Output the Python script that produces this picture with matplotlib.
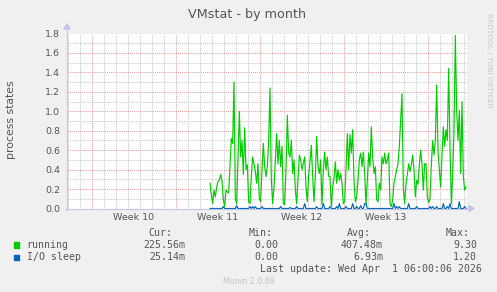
import numpy as np
import matplotlib
matplotlib.use("Agg")
import matplotlib.pyplot as plt
import matplotlib.transforms as mtransforms
from matplotlib.patches import Rectangle, Polygon
from matplotlib.lines import Line2D

# --- data ---
# x axis in days since Sun 1 Mar 2026 00:00, one sample every 1/9 day
t_start = 9.858
t_step = 1 / 9

running = [
    0.26, 0.14, 0.05, 0.19, 0.12, 0.22, 0.28, 0.29, 0.35, 0.29,
    0.09, 0.02, 0.19, 0.17, 0.16, 0.45, 0.72, 0.67, 1.30, 0.10,
    0.05, 0.50, 1.00, 0.53, 0.70, 0.35, 0.83, 0.40, 0.45, 0.07,
    0.05, 0.33, 0.53, 0.46, 0.38, 0.26, 0.46, 0.10, 0.07, 0.40,
    0.67, 0.43, 0.33, 0.43, 0.70, 1.24, 0.29, 0.05, 0.22, 0.50,
    0.77, 0.46, 0.70, 0.43, 0.64, 0.05, 0.04, 0.40, 0.96, 0.57,
    0.53, 0.70, 0.36, 0.50, 0.19, 0.05, 0.29, 0.55, 0.50, 0.40,
    0.46, 0.53, 0.22, 0.07, 0.34, 0.48, 0.65, 0.33, 0.07, 0.33,
    0.74, 0.43, 0.36, 0.50, 0.04, 0.40, 0.58, 0.40, 0.53, 0.33,
    0.33, 0.02, 0.22, 0.31, 0.48, 0.26, 0.40, 0.29, 0.36, 0.26,
    0.05, 0.07, 0.40, 0.77, 0.40, 0.76, 0.57, 0.81, 0.29, 0.07,
    0.12, 0.29, 0.50, 0.57, 0.43, 0.58, 0.36, 0.04, 0.29, 0.57,
    0.43, 0.84, 0.53, 0.36, 0.43, 0.09, 0.07, 0.26, 0.19, 0.53,
    0.46, 0.57, 0.46, 0.50, 0.57, 0.05, 0.02, 0.09, 0.26, 0.33,
    0.40, 0.46, 0.64, 0.91, 1.18, 0.20, 0.05, 0.25, 0.35, 0.46,
    0.38, 0.45, 0.55, 0.40, 0.12, 0.29, 0.25, 0.45, 0.60, 0.45,
    0.19, 0.46, 0.46, 0.12, 0.06, 0.10, 0.45, 0.70, 0.55, 0.70,
    1.27, 0.60, 0.40, 0.22, 0.55, 0.84, 0.64, 0.81, 0.70, 1.44,
    0.64, 0.05, 0.35, 0.80, 1.78, 1.01, 0.70, 1.01, 0.36, 1.10,
    0.33, 0.19, 0.22,
]

io_sleep = [
    0, 0, 0, 0, 0, 0, 0, 0, 0, 0,
    0.02, 0, 0, 0, 0, 0, 0, 0, 0, 0,
    0.03, 0, 0, 0, 0, 0, 0, 0, 0, 0,
    0.02, 0, 0.02, 0, 0.02, 0, 0, 0, 0, 0.02,
    0, 0, 0, 0, 0, 0, 0, 0, 0, 0,
    0, 0, 0, 0.02, 0, 0, 0, 0, 0, 0,
    0.01, 0, 0, 0, 0, 0.02, 0, 0, 0, 0,
    0, 0.05, 0, 0, 0, 0, 0, 0, 0, 0,
    0.02, 0, 0, 0, 0, 0.05, 0, 0, 0, 0,
    0.02, 0, 0, 0, 0, 0.02, 0, 0.05, 0, 0,
    0, 0, 0.02, 0, 0, 0, 0, 0.05, 0, 0,
    0.02, 0, 0, 0.03, 0, 0, 0.05, 0.05, 0, 0,
    0, 0, 0, 0, 0, 0, 0, 0, 0, 0,
    0, 0, 0, 0, 0, 0, 0, 0, 0.05, 0,
    0.02, 0, 0.02, 0, 0, 0, 0, 0, 0, 0.05,
    0, 0, 0, 0, 0, 0.02, 0, 0, 0, 0,
    0, 0, 0, 0, 0, 0.02, 0, 0.02, 0, 0,
    0.02, 0, 0, 0, 0, 0.05, 0, 0, 0.02, 0,
    0.05, 0, 0, 0, 0, 0, 0, 0.07, 0, 0,
    0, 0.02, 0,
]

week_labels = ["Week 10", "Week 11", "Week 12", "Week 13"]
week_starts = [0, 7, 14, 21, 28]

series_names = ["running", "I/O sleep"]
series_colors = ["#00CC00", "#0066B3"]
cur_vals = ["225.56m", "25.14m"]
min_vals = ["0.00", "0.00"]
avg_vals = ["407.48m", "6.93m"]
max_vals = ["9.30", "1.20"]

# --- layout in pixels ---
W, H = 497, 292
px_l, px_r, px_t, px_b = 67, 467, 33.5, 208.5
txt = "#555555"
axis_col = "#C4C4EC"


def fx(x):
    return x / W


def fy(y):
    return 1 - y / H


fig = plt.figure(figsize=(W / 100, H / 100), dpi=100, facecolor="#F0F0F0")
ax = fig.add_axes([fx(px_l), fy(px_b), (px_r - px_l) / W, (px_b - px_t) / H])
ax.set_facecolor("white")

t = t_start + t_step * np.arange(len(running))
ax.plot(t, running, color=series_colors[0], lw=0.85, zorder=3)
ax.plot(t, io_sleep, color=series_colors[1], lw=0.85, zorder=3)

ax.set_xlim((px_l - 91.7) / 12, (px_r - 91.7) / 12)
ax.set_ylim(0, 1.8)

# grid: red major, grey minor, dotted
ax.set_xticks(week_starts)
ax.set_xticks(np.arange(-2, 32), minor=True)
ax.set_yticks(np.arange(0, 1.81, 0.2))
ax.set_yticks(np.arange(0, 1.81, 0.1), minor=True)
ax.set_yticklabels([f"{v:.1f}" for v in np.arange(0, 1.81, 0.2)])
ax.set_xticklabels([])
ax.grid(which="minor", color="#C8C8C8", lw=0.75, ls=(0, (1, 1)), zorder=0)
ax.grid(which="major", color="#E8A0A0", lw=0.75, ls=(0, (1, 1)), zorder=1)
ax.tick_params(axis="both", which="both", length=0)
ax.tick_params(axis="y", labelsize=6.8, labelcolor=txt, pad=5)
for s in ax.spines.values():
    s.set_visible(False)

week_tr = mtransforms.blended_transform_factory(ax.transData, fig.transFigure)
for i, lab in enumerate(week_labels):
    ax.text(week_starts[i] + 3.5, fy(220.5), lab, transform=week_tr,
            ha="center", va="baseline", fontsize=6.8, color=txt)

# axes lines with arrows
fig.add_artist(Line2D([fx(px_l), fx(px_l)], [fy(px_b + 1), fy(28)], color=axis_col, lw=0.8))
fig.add_artist(Line2D([fx(px_l - 1), fx(471)], [fy(px_b), fy(px_b)], color=axis_col, lw=0.8))
fig.add_artist(Polygon([[fx(64), fy(29)], [fx(70), fy(29)], [fx(67), fy(24)]],
                       closed=True, color=axis_col, transform=fig.transFigure))
fig.add_artist(Polygon([[fx(469), fy(205.5)], [fx(469), fy(211.5)], [fx(474), fy(px_b)]],
                       closed=True, color=axis_col, transform=fig.transFigure))

# titles
fig.text(fx(247.5), fy(18.3), "VMstat - by month", ha="center", va="baseline",
         fontsize=9.2, color=txt)
fig.text(fx(11), fy(120), "process states", rotation=90, ha="center", va="center",
         fontsize=7.8, color=txt)
fig.text(fx(489), fy(13), "RRDTOOL / TOBI OETIKER", rotation=270, ha="center", va="top",
         fontsize=5.3, color="#C8C8C8")

# legend table
mono = dict(family="DejaVu Sans Mono", fontsize=7.1, color=txt, va="baseline")
heads = ["Cur:", "Min:", "Avg:", "Max:"]
head_x = [172.3, 272.3, 371, 470]
col_x = [185, 278, 383, 477]
for h, x in zip(heads, head_x):
    fig.text(fx(x), fy(236.5), h, ha="right", **mono)

row_y = [247.5, 260]
for i, name in enumerate(series_names):
    y = row_y[i]
    fig.add_artist(Rectangle((fx(14), fy(y)), 5.3 / W, 5.3 / H, color=series_colors[i],
                             transform=fig.transFigure))
    fig.text(fx(26.7), fy(y), name, ha="left", **mono)
    for vals, x in zip([cur_vals, min_vals, avg_vals, max_vals], col_x):
        fig.text(fx(x), fy(y), vals[i], ha="right", **mono)

fig.text(fx(482), fy(272), "Last update: Wed Apr  1 06:00:06 2026", ha="right", **mono)
fig.text(fx(249), fy(283.5), "Munin 2.0.69", ha="center", va="baseline",
         fontsize=5.8, color="#C4C4C4")

fig.savefig("out.png", dpi=100, facecolor=fig.get_facecolor())
